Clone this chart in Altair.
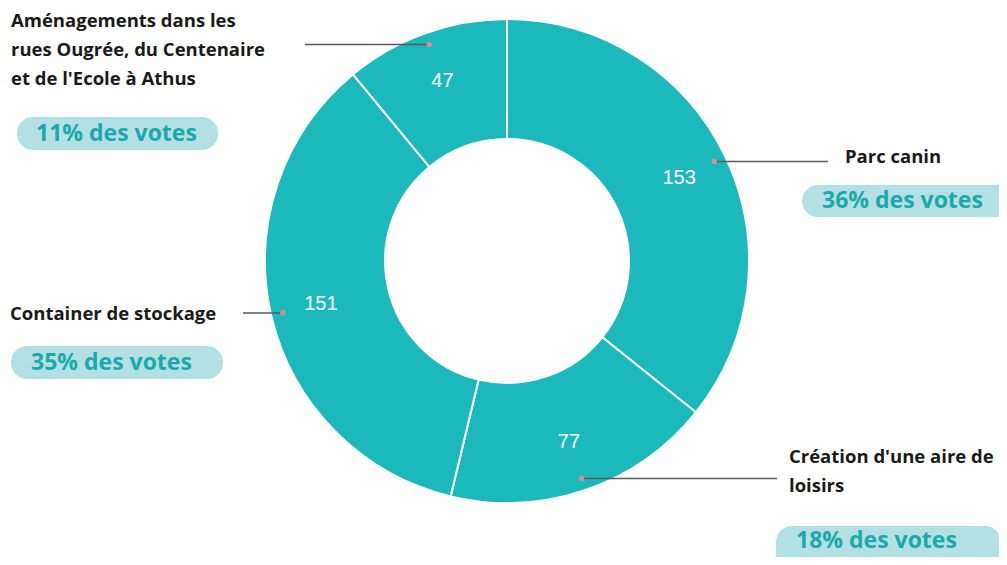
import altair as alt
import pandas as pd

# ---- data ----
categories = ["Parc canin", "Création d'une aire de\nloisirs", "Container de stockage",
              "Aménagements dans les\nrues Ougrée, du Centenaire\net de l'Ecole à Athus"]
votes = [153, 77, 151, 47]
order = [1, 2, 3, 4]

# ---- layout (page pixels) ----
OFF = 8
label_x = [845, 789, 10, 11]
label_y = [157, 457, 314, 21]
line_end_x = [828, 777, 243, 305]
pill_x0 = [802, 776, 11, 17]
pill_x1 = [1045, 1001, 223, 218]
pill_y0 = [185, 526, 346, 117]
pill_y1 = [217, 580, 379, 150]
pill_tx = [822, 796, 31, 36]
pill_ty = [201, 541, 363, 134]

W, H = 991, 549
CX, CY = 507 - OFF, 261 - OFF
R_OUT, R_IN, R_LBL, R_DOT = 242, 122, 191, 230

df = pd.DataFrame({
    "cat": categories, "v": votes, "order": order,
    "lx": [v - OFF for v in label_x], "ly": [v - OFF for v in label_y],
    "le": [v - OFF for v in line_end_x],
    "px0": [v - OFF for v in pill_x0], "px1": [v - OFF for v in pill_x1],
    "py0": [v - OFF for v in pill_y0], "py1": [v - OFF for v in pill_y1],
    "ptx": [v - OFF for v in pill_tx], "pty": [v - OFF for v in pill_ty],
})

TEAL = "#1bb9bc"
base = alt.Chart(df).transform_joinaggregate(
    total="sum(v)"
).transform_window(
    cum="sum(v)", sort=[alt.SortField("order")], frame=[None, 0]
).transform_calculate(
    mid="2*PI*(datum.cum - datum.v/2)/datum.total",
    pct="format(round(datum.v/datum.total*100), 'd') + '% des votes'",
).transform_calculate(
    dotx=f"{CX} + {R_DOT}*sin(datum.mid)",
    doty=f"{CY} - {R_DOT}*cos(datum.mid)",
)

arcs = alt.Chart(df).mark_arc(
    outerRadius=R_OUT, innerRadius=R_IN, stroke="white", strokeWidth=2, color=TEAL
).encode(
    theta=alt.Theta("v:Q", stack=True),
    order=alt.Order("order:Q"),
    x=alt.value(CX), y=alt.value(CY),
)

vals = alt.Chart(df).mark_text(
    radius=R_LBL, color="white", font="Liberation Sans", fontSize=20
).encode(
    theta=alt.Theta("v:Q", stack=True),
    order=alt.Order("order:Q"),
    text=alt.Text("v:Q"),
    x=alt.value(CX), y=alt.value(CY),
)

lines = base.mark_rule(color="#5a5a5a", strokeWidth=1.5).encode(
    x=alt.X("dotx:Q", scale=None), x2="le:Q",
    y=alt.Y("doty:Q", scale=None),
)

dots = base.mark_circle(color="#d98c96", size=30, opacity=1).encode(
    x=alt.X("dotx:Q", scale=None), y=alt.Y("doty:Q", scale=None),
)

labels = base.mark_text(
    align="left", baseline="middle", lineBreak="\n", lineHeight=29,
    font="Open Sans", fontWeight="bold", fontSize=18.5, color="#1a1a1a"
).encode(
    x=alt.X("lx:Q", scale=None), y=alt.Y("ly:Q", scale=None), text="cat:N",
)

pills = base.mark_rect(cornerRadius=16, color="#b3e0e2").encode(
    x=alt.X("px0:Q", scale=None), x2="px1:Q",
    y=alt.Y("py0:Q", scale=None), y2="py1:Q",
)

pill_text = base.mark_text(
    align="left", baseline="middle", font="Open Sans", fontWeight="bold",
    fontSize=23, color="#1aa9ad"
).encode(
    x=alt.X("ptx:Q", scale=None), y=alt.Y("pty:Q", scale=None), text="pct:N",
)

chart = alt.layer(arcs, vals, lines, dots, pills, pill_text, labels).properties(
    width=W, height=H, padding=0, autosize=alt.AutoSizeParams(type="none")
).configure_view(stroke=None)

chart.save("out.html", embed_options={"renderer": "svg", "actions": False})
